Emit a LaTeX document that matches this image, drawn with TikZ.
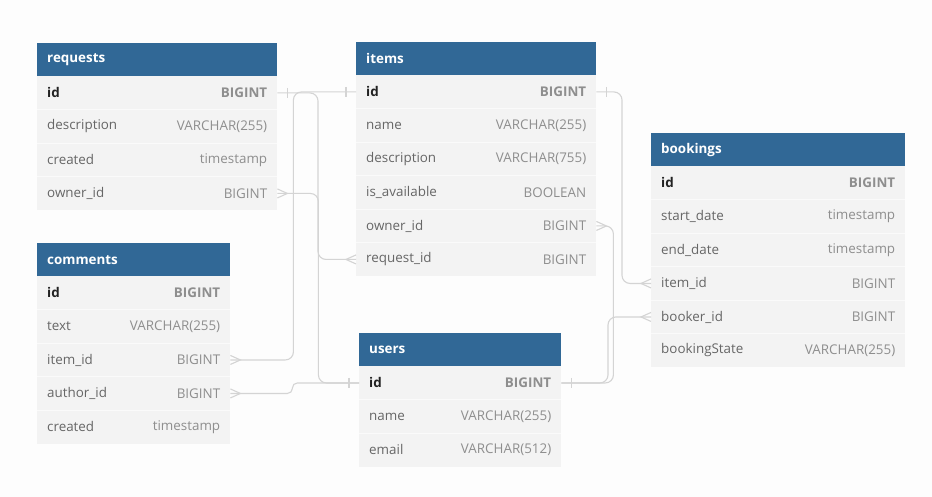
\documentclass[tikz,border=0pt]{standalone}
\usepackage{fontspec}
\setmainfont{Open Sans}
\usetikzlibrary{calc}
\definecolor{hdrblue}{HTML}{316896}
\definecolor{rowbg}{HTML}{F3F3F3}
\definecolor{sepcol}{HTML}{FAFAFA}
\definecolor{fldcol}{HTML}{666666}
\definecolor{typcol}{HTML}{8E8E8E}
\definecolor{idcol}{HTML}{222222}
\definecolor{conncol}{HTML}{D4D4D4}
\definecolor{bgcol}{HTML}{FDFDFD}
\newcommand\tfont{\fontsize{13.4}{15}\selectfont}
\tikzset{
  hdr/.style={fill=hdrblue, inner sep=0, minimum height=33, anchor=north west},
  hdrtxt/.style={anchor=west, inner sep=0, text=white, font=\tfont\bfseries},
  rowbox/.style={fill=rowbg, inner sep=0, minimum height=33.5, anchor=north west},
  fld/.style={anchor=west, inner sep=0, text=fldcol, font=\tfont},
  typ/.style={anchor=east, inner sep=0, text=typcol, font=\tfont},
  idfld/.style={anchor=west, inner sep=0, text=idcol, font=\tfont\bfseries},
  idtyp/.style={anchor=east, inner sep=0, text=typcol, font=\tfont\bfseries},
  sepline/.style={draw=sepcol, line width=0.8},
  conn/.style={draw=conncol, line width=1.1, rounded corners=8},
  endmark/.style={draw=conncol, line width=1.1},
}
\newcommand\mktable[6]{%
  \node[hdr, minimum width=#4] (#1) at (#2,#3) {};
  \node[hdrtxt] (#1-title) at ($(#1.west)+(10,0)$) {#5};
  \foreach \f/\t [count=\k] in {#6} {
    \node[rowbox, minimum width=#4] (#1-\k) at (#2,{#3+33+33.5*(\k-1)}) {};
    \ifnum\k=1
      \node[idfld] (#1-\k-f) at ($(#1-\k.west)+(10,0)$) {\f};
      \node[idtyp] (#1-\k-t) at ($(#1-\k.east)+(-10,0)$) {\t};
    \else
      \draw[sepline] (#1-\k.north west) -- (#1-\k.north east);
      \node[fld] (#1-\k-f) at ($(#1-\k.west)+(10,0)$) {\f};
      \node[typ] (#1-\k-t) at ($(#1-\k.east)+(-10,0)$) {\t};
    \fi
  }
}
\newcommand\barR[1]{\draw[endmark] ($(#1.east)+(10,-5)$) -- ($(#1.east)+(10,5)$);}
\newcommand\barL[1]{\draw[endmark] ($(#1.west)+(-10,-5)$) -- ($(#1.west)+(-10,5)$);}
\newcommand\crowR[1]{\draw[endmark] ($(#1.east)+(0,-4.5)$) -- ($(#1.east)+(10,0)$) -- ($(#1.east)+(0,4.5)$);}
\newcommand\crowL[1]{\draw[endmark] ($(#1.west)+(0,-4.5)$) -- ($(#1.west)+(-10,0)$) -- ($(#1.west)+(0,4.5)$);}
\begin{document}
\begin{tikzpicture}[x=1pt,y=-1pt]
\fill[bgcol] (0,0) rectangle (932,497);
\useasboundingbox (0,0) rectangle (932,497);

\mktable{requests}{37}{43}{240}{requests}{id/BIGINT, description/VARCHAR(255), created/timestamp, owner\_id/BIGINT}
\mktable{items}{356}{42}{240}{items}{id/BIGINT, name/VARCHAR(255), description/VARCHAR(755), is\_available/BOOLEAN, owner\_id/BIGINT, request\_id/BIGINT}
\mktable{bookings}{651}{133}{254}{bookings}{id/BIGINT, start\_date/timestamp, end\_date/timestamp, item\_id/BIGINT, booker\_id/BIGINT, bookingState/VARCHAR(255)}
\mktable{comments}{37}{243}{193}{comments}{id/BIGINT, text/VARCHAR(255), item\_id/BIGINT, author\_id/BIGINT, created/timestamp}
\mktable{users}{359}{333}{202}{users}{id/BIGINT, name/VARCHAR(255), email/VARCHAR(512)}

% connectors
\draw[conn] (items-6.west) -- ++(-38,0) |- (requests-1.east);
\draw[conn] (comments-3.east) -- ++(63,0) |- (items-1.west);
\draw[conn] (requests-4.east) -- ++(41,0) |- (users-1.west);
\draw[conn, rounded corners=5] (comments-4.east) -- ++(62,0) |- (users-1.west);
\draw[conn] (bookings-4.west) -- ++(-29,0) |- (items-1.east);
\draw[conn] (items-5.east) -- ++(17,0) |- (users-1.east);
\draw[conn] (bookings-5.west) -- ++(-43,0) |- (users-1.east);

% end marks
\crowL{items-6}   \barR{requests-1}
\crowR{comments-3} \barL{items-1}
\crowR{requests-4} \barL{users-1}
\crowR{comments-4}
\crowL{bookings-4} \barR{items-1}
\crowR{items-5}   \barR{users-1}
\crowL{bookings-5}
\end{tikzpicture}
\end{document}
